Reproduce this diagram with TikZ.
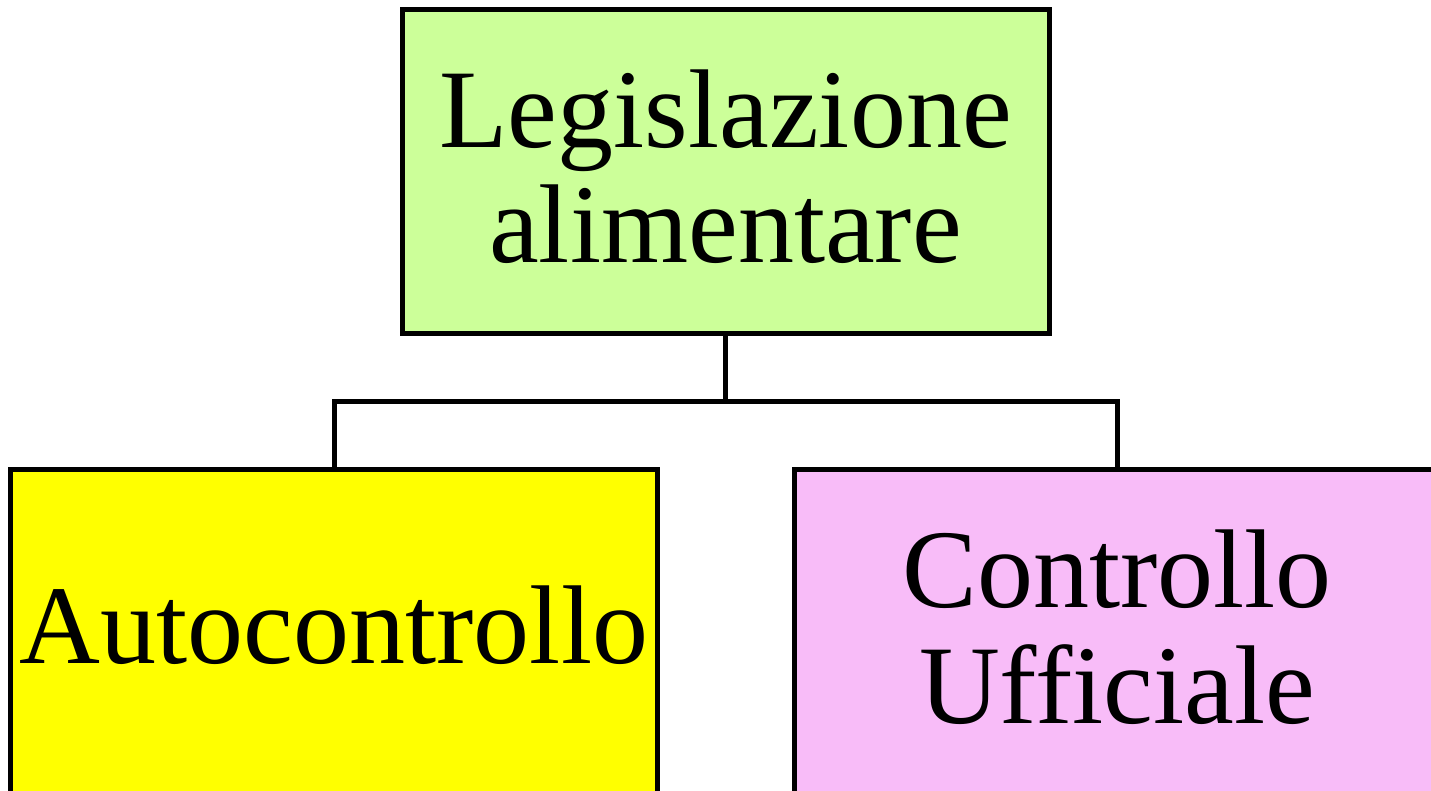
\documentclass[tikz,border=0pt]{standalone}
\usepackage{fontspec}
\setmainfont{Liberation Serif}
\definecolor{boxgreen}{HTML}{CCFF99}
\definecolor{boxyellow}{HTML}{FFFF00}
\definecolor{boxpink}{HTML}{F8BCF8}
\begin{document}
\begin{tikzpicture}[x=1pt,y=-1pt,
  box/.style={draw=black, line width=5pt, minimum width=647pt, minimum height=323.5pt,
    inner sep=0pt, outer sep=0pt, anchor=north west},
  lbl/.style={font=\fontsize{112}{115}\selectfont, inner sep=0pt, anchor=base},
  conn/.style={draw=black, line width=5pt}]
\useasboundingbox (0,0) rectangle (1431,791);
\clip (0,0) rectangle (1431,791);
\node[box, fill=boxgreen] (top) at (402,10) {};
\node[box, fill=boxyellow] (left) at (10.5,469.5) {};
\node[box, fill=boxpink] (right) at (794,469.5) {};
\coordinate (jy) at (0,401.5);
\coordinate (j) at (top.south |- jy);
\draw[conn] (top.south) -- (j);
\draw[conn] (left.north) |- (j) -| (right.north);
\node[lbl] (t1) at (725.5,148) {Legislazione};
\node[lbl] (t2) at (725.5,263) {alimentare};
\node[lbl] (t3) at (334,663) {Autocontrollo};
\node[lbl] (t4) at (1117,607) {Controllo};
\node[lbl] (t5) at (1117,723) {Ufficiale};
\end{tikzpicture}
\end{document}
